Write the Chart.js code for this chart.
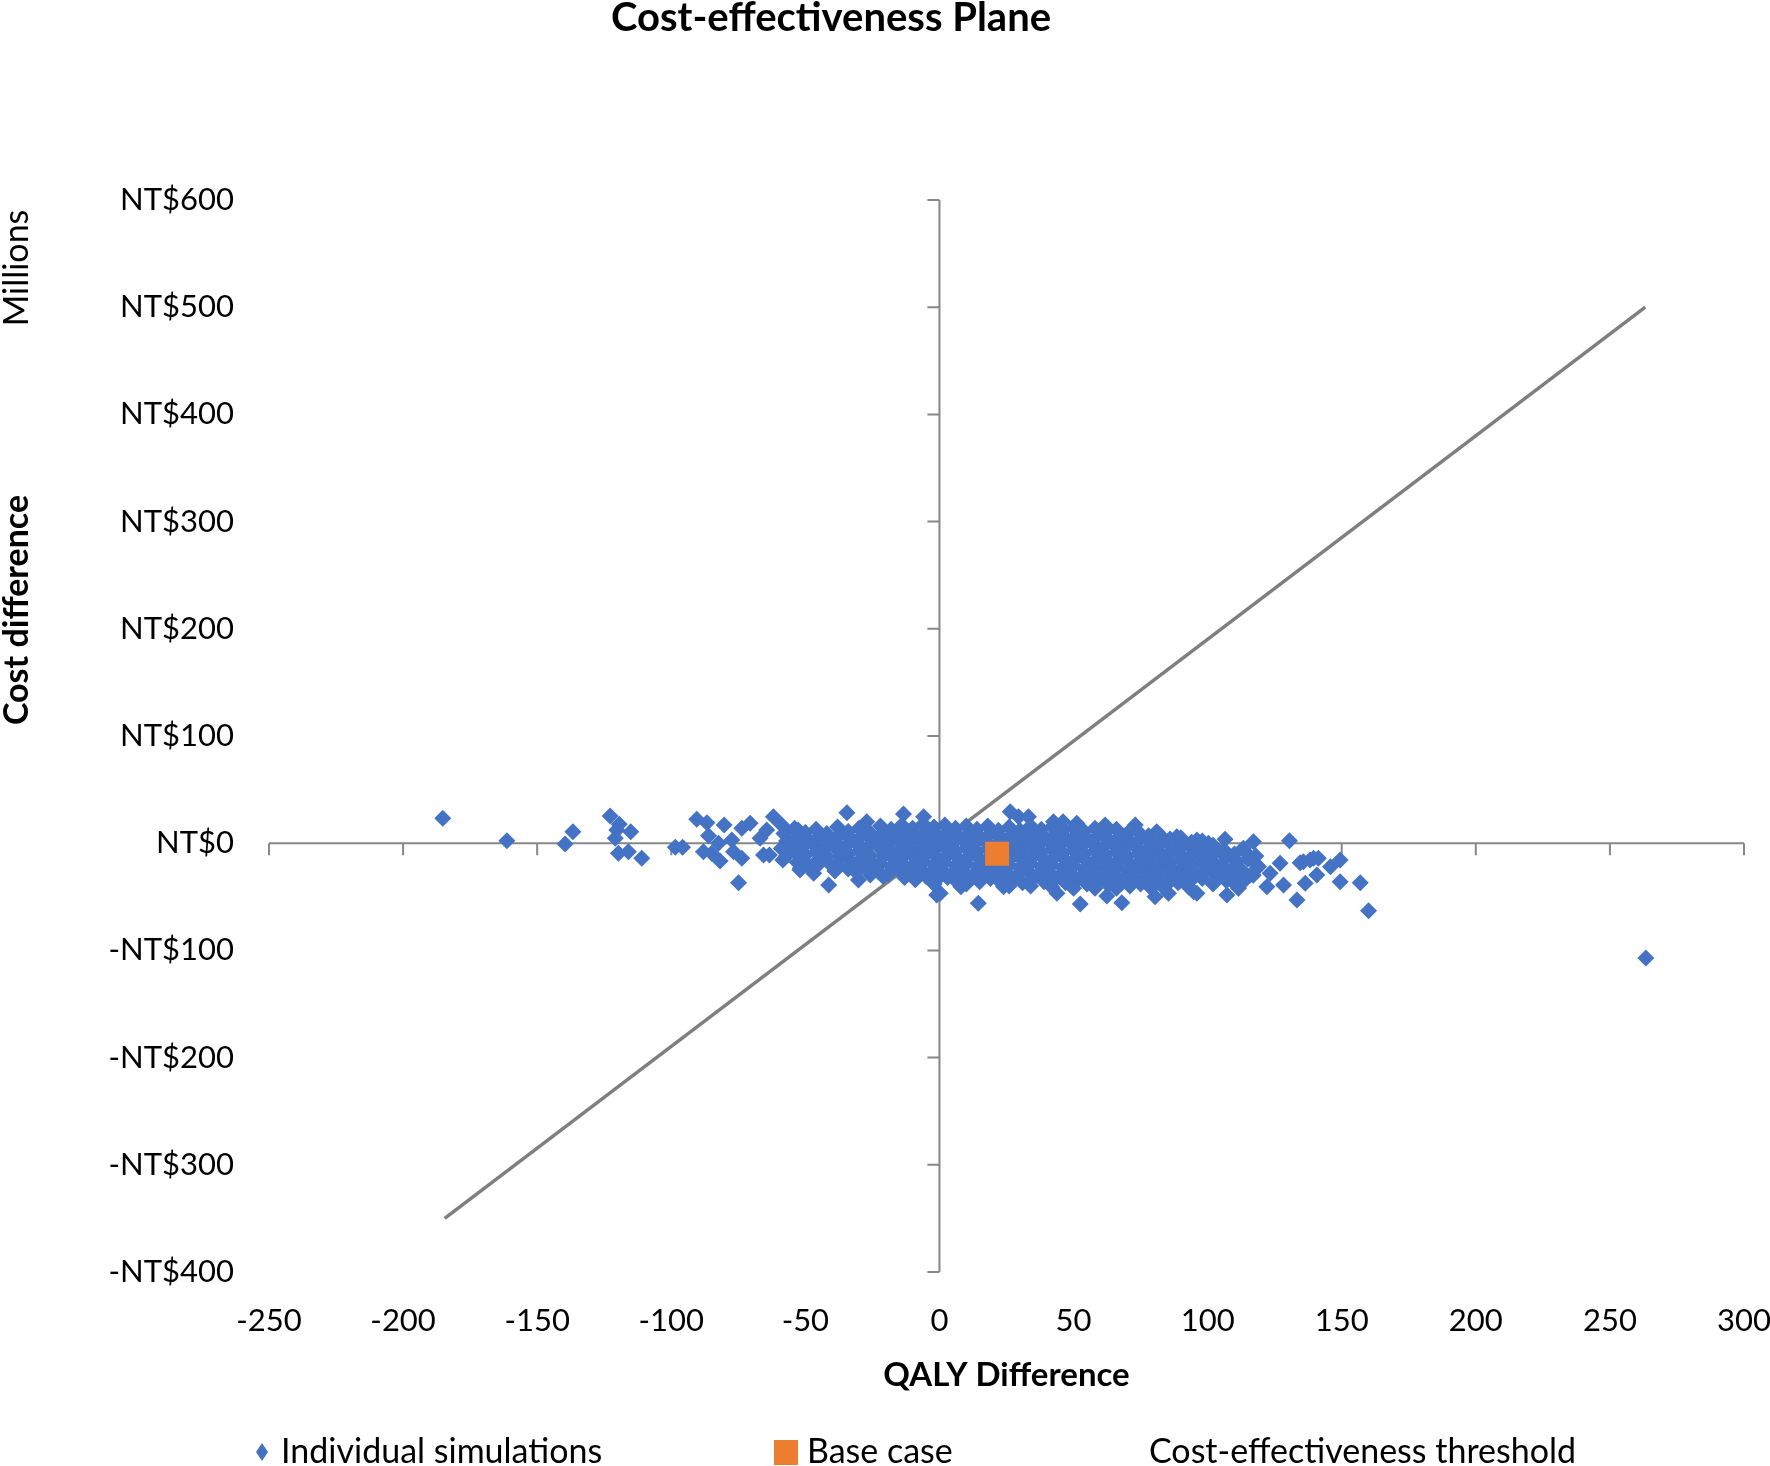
<!DOCTYPE html>
<html>
<head>
<meta charset="utf-8">
<title>Cost-effectiveness Plane</title>
<script src="https://cdn.jsdelivr.net/npm/chart.js@4.4.1/dist/chart.umd.min.js"></script>
<style>
  html, body { margin: 0; padding: 0; background: #fff; }
</style>
</head>
<body>
<canvas id="cePlane" width="1770" height="1466"></canvas>
<script>

// tick values on both axes
var qalyTicks = [-250, -200, -150, -100, -50, 0, 50, 100, 150, 200, 250, 300];
var costTicks = [-400, -300, -200, -100, 0, 100, 200, 300, 400, 500, 600];

// base case (QALY difference, cost difference in millions NT$)
var baseQaly = [21.5];
var baseCost = [-9.8];

// cost-effectiveness threshold line end points
var thresholdQaly = [-184.5, 263.2];
var thresholdCost = [-350, 500];

// individual simulations [QALY difference, cost difference]
var simulations = [
  // left tail
  [-185.2, 23.2], [-161.3, 2.3], [-136.7, 10.7], [-139.6, -0.7],
  [-122.8, 25.4], [-119.4, 17.6], [-120.3, 12.3], [-115.1, 10.7], [-120.9, 4.6],
  [-119.7, -9.4], [-116.0, -7.9], [-111.0, -14.1], [-98.5, -3.8], [-95.8, -3.8],
  [-90.5, 22.3], [-86.7, 19.1], [-80.3, 17.0], [-86.1, 7.0], [-88.0, -7.9],
  [-84.9, -9.4], [-81.8, -16.6], [-74.9, -36.8], [-82.4, 0.0], [-77.4, 3.0],
  [-73.7, 13.9], [-70.6, 18.6], [-76.8, -7.9], [-73.7, -14.1], [-65.6, -11.0],
  [-64.4, 12.3], [-66.9, 4.6],
  // edges of the cloud
  [-61.9, 24.7], [-58.8, 17.0], [-52.7, 12.3], [-49.1, 3.0], [-63.4, -11.0], [-58.4, -15.7],
  [-52.0, -25.0], [-51.9, -23.4], [-46.9, -28.1], [-41.3, -39.0], [-30.2, -34.3], [-25.8, -29.7],
  [-34.5, 28.5], [-27.1, 20.1], [-13.4, 27.2], [-5.9, 24.7],
  [0.3, -46.7], [-1.0, -48.3], [8.0, -40.6], [14.5, -56.0], [6.5, -35.9], [23.9, -40.6],
  [26.4, 29.4], [29.5, 24.7], [33.2, 24.7], [42.5, 20.1], [46.1, 20.1], [51.2, 18.6],
  [61.8, 17.0], [73.0, 17.0], [81.0, 10.7], [88.5, 6.1], [96.0, 3.0], [100.3, 0.0],
  [106.5, 3.6], [117.1, 1.4], [130.5, 2.3], [113.3, -4.8],
  [43.8, -46.7], [52.5, -56.7], [68.0, -55.5], [62.4, -49.3], [85.4, -46.7], [80.4, -49.9],
  [94.8, -45.2], [96.0, -46.7], [107.2, -48.3], [111.5, -42.1],
  // right tail
  [118.3, -20.3], [127.0, -18.8], [134.5, -18.2], [138.2, -15.7], [141.3, -14.1], [135.7, -17.3],
  [139.5, -14.1], [145.8, -21.9], [149.4, -15.7], [123.3, -28.1], [115.9, -29.7], [140.7, -29.7],
  [122.1, -40.6], [128.3, -39.0], [136.4, -37.4], [149.4, -35.9], [156.9, -36.8], [133.3, -53.0],
  [160.0, -63.0],
  [263.4, -107.1],
  // dense core
  [-58, 9], [-57, 2], [-59, -5], [-57, -12],
  [-54, 14], [-53, 6], [-55, -1], [-54, -8], [-53, -18],
  [-50, 10], [-49, 3], [-51, -4], [-50, -11], [-49, -20],
  [-46, 13], [-45, 6], [-47, -1], [-46, -8], [-45, -15], [-46, -22],
  [-42, 9], [-41, 2], [-43, -5], [-42, -12], [-41, -19],
  [-38, 15], [-37, 8], [-39, 1], [-38, -6], [-37, -13], [-38, -20], [-39, -26],
  [-34, 11], [-33, 4], [-35, -3], [-34, -10], [-33, -17], [-34, -24],
  [-30, 14], [-29, 7], [-31, 0], [-30, -7], [-29, -14], [-30, -21], [-31, -27],
  [-26, 10], [-25, 3], [-27, -4], [-26, -11], [-25, -18], [-26, -25],
  [-22, 16], [-21, 9], [-23, 2], [-22, -5], [-21, -12], [-22, -19], [-23, -26], [-21, -31],
  [-18, 13], [-17, 6], [-19, -1], [-18, -8], [-17, -15], [-18, -22], [-19, -29],
  [-14, 17], [-13, 10], [-15, 3], [-14, -4], [-13, -11], [-14, -18], [-15, -25], [-13, -32],
  [-10, 14], [-9, 7], [-11, 0], [-10, -7], [-9, -14], [-10, -21], [-11, -28], [-9, -34],
  [-6, 18], [-5, 11], [-7, 4], [-6, -3], [-5, -10], [-6, -17], [-7, -24], [-5, -31],
  [-2, 15], [-1, 8], [-3, 1], [-2, -6], [-1, -13], [-2, -20], [-3, -27], [-1, -34], [-2, -38],
  [2, 17], [3, 10], [1, 3], [2, -4], [3, -11], [2, -18], [1, -25], [3, -32],
  [6, 14], [7, 7], [5, 0], [6, -7], [7, -14], [6, -21], [5, -28], [7, -35],
  [10, 16], [11, 9], [9, 2], [10, -5], [11, -12], [10, -19], [9, -26], [11, -33], [10, -38],
  [14, 13], [15, 6], [13, -1], [14, -8], [15, -15], [14, -22], [13, -29], [15, -36],
  [18, 16], [19, 9], [17, 2], [18, -5], [19, -12], [18, -19], [17, -26], [19, -33],
  [22, 12], [23, 5], [21, -2], [22, -9], [23, -16], [22, -23], [21, -30], [23, -37],
  [26, 15], [27, 8], [25, 1], [26, -6], [27, -13], [26, -20], [25, -27], [27, -34], [26, -40],
  [30, 12], [31, 5], [29, -2], [30, -9], [31, -16], [30, -23], [29, -30], [31, -37],
  [34, 16], [35, 9], [33, 2], [34, -5], [35, -12], [34, -19], [33, -26], [35, -33], [34, -40],
  [38, 13], [39, 6], [37, -1], [38, -8], [39, -15], [38, -22], [37, -29], [39, -36],
  [42, 15], [43, 8], [41, 1], [42, -6], [43, -13], [42, -20], [41, -27], [43, -34], [42, -41],
  [46, 12], [47, 5], [45, -2], [46, -9], [47, -16], [46, -23], [45, -30], [47, -37],
  [50, 14], [51, 7], [49, 0], [50, -7], [51, -14], [50, -21], [49, -28], [51, -35], [50, -42],
  [54, 11], [55, 4], [53, -3], [54, -10], [55, -17], [54, -24], [53, -31], [55, -38],
  [58, 14], [59, 7], [57, 0], [58, -7], [59, -14], [58, -21], [57, -28], [59, -35], [58, -42],
  [62, 10], [63, 3], [61, -4], [62, -11], [63, -18], [62, -25], [61, -32], [63, -39],
  [66, 13], [67, 6], [65, -1], [66, -8], [67, -15], [66, -22], [65, -29], [67, -36], [66, -42],
  [70, 9], [71, 2], [69, -5], [70, -12], [71, -19], [70, -26], [69, -33], [71, -40],
  [74, 11], [75, 4], [73, -3], [74, -10], [75, -17], [74, -24], [73, -31], [75, -38],
  [78, 7], [79, 0], [77, -7], [78, -14], [79, -21], [78, -28], [77, -35], [79, -42],
  [82, 8], [83, 1], [81, -6], [82, -13], [83, -20], [82, -27], [81, -34], [83, -40],
  [86, 4], [87, -3], [85, -10], [86, -17], [87, -24], [86, -31], [85, -38],
  [90, 5], [91, -2], [89, -9], [90, -16], [91, -23], [90, -30], [89, -37],
  [94, 1], [95, -6], [93, -13], [94, -20], [95, -27], [94, -34], [93, -41],
  [98, 2], [99, -5], [97, -12], [98, -19], [99, -26], [98, -33],
  [102, -2], [103, -9], [101, -16], [102, -23], [103, -30], [102, -38],
  [106, -6], [107, -13], [105, -20], [106, -27], [107, -35],
  [110, -10], [111, -17], [109, -24], [110, -31], [111, -40],
  [114, -8], [115, -15], [113, -26], [114, -34],
  [118, -12], [119, -22], [117, -30]
];

var blue = '#4472C4';
var orange = '#ED7D31';
var lineGrey = '#7f7f7f';

Chart.defaults.font.family = 'Lato';
Chart.defaults.color = '#000';

function toPoints(xs, ys) {
  var pts = [];
  for (var i = 0; i < xs.length; i++) {
    pts.push({x: xs[i], y: ys[i]});
  }
  return pts;
}

function costLabel(v) {
  if (v < 0) return '-NT$' + Math.abs(v);
  return 'NT$' + v;
}

// Excel style axes crossing at zero, titles and legend
var planeDecor = {
  id: 'planeDecor',
  beforeDatasetsDraw: function(chart) {
    var ctx = chart.ctx, xs = chart.scales.x, ys = chart.scales.y;
    var x0 = xs.getPixelForValue(0), y0 = ys.getPixelForValue(0);
    ctx.save();
    ctx.strokeStyle = '#878787';
    ctx.lineWidth = 2;
    ctx.beginPath();
    ctx.moveTo(xs.left, y0); ctx.lineTo(xs.right, y0);
    ctx.moveTo(x0, ys.top); ctx.lineTo(x0, ys.bottom);
    xs.ticks.forEach(function(t) {
      var px = xs.getPixelForValue(t.value);
      ctx.moveTo(px, y0); ctx.lineTo(px, y0 + 12);
    });
    ys.ticks.forEach(function(t) {
      var py = ys.getPixelForValue(t.value);
      ctx.moveTo(x0 - 12, py); ctx.lineTo(x0, py);
    });
    ctx.stroke();
    ctx.restore();
  },
  afterDraw: function(chart) {
    var ctx = chart.ctx;
    ctx.save();
    ctx.fillStyle = '#000';
    ctx.textBaseline = 'middle';

    // chart title
    ctx.textAlign = 'center';
    ctx.font = 'bold 40px Lato';
    ctx.fillText('Cost-effectiveness Plane', 831, 18);

    // vertical titles
    ctx.save();
    ctx.translate(17, 610);
    ctx.rotate(-Math.PI / 2);
    ctx.font = 'bold 34px Lato';
    ctx.fillText('Cost difference', 0, 0);
    ctx.restore();
    ctx.save();
    ctx.translate(17, 268);
    ctx.rotate(-Math.PI / 2);
    ctx.font = '34px Lato';
    ctx.fillText('Millions', 0, 0);
    ctx.restore();

    // legend
    var ly = 1452;
    var ds = chart.data.datasets;
    ctx.font = '34px Lato';
    ctx.textAlign = 'left';
    ctx.fillStyle = ds[0].backgroundColor;
    ctx.beginPath();
    ctx.moveTo(262, ly - 9); ctx.lineTo(268, ly); ctx.lineTo(262, ly + 9); ctx.lineTo(256, ly);
    ctx.closePath();
    ctx.fill();
    ctx.fillStyle = ds[1].backgroundColor;
    ctx.fillRect(774, ly - 12, 24, 25);
    ctx.fillStyle = '#000';
    ctx.fillText(ds[0].label, 281, ly);
    ctx.fillText(ds[1].label, 807, ly);
    ctx.fillText(ds[2].label, 1149, ly);
    ctx.restore();
  }
};

var ctx = document.getElementById('cePlane');
var chart = new Chart(ctx, {
  type: 'scatter',
  data: {
    datasets: [
      {
        label: 'Individual simulations',
        data: simulations.map(function(p) { return {x: p[0], y: p[1]}; }),
        pointStyle: 'rectRot',
        pointRadius: 8.5,
        backgroundColor: blue,
        borderColor: blue,
        borderWidth: 0,
        order: 2
      },
      {
        label: 'Base case',
        data: toPoints(baseQaly, baseCost),
        pointStyle: 'rect',
        pointRadius: 17,
        backgroundColor: orange,
        borderColor: orange,
        borderWidth: 0,
        order: 1
      },
      {
        label: 'Cost-effectiveness threshold',
        data: toPoints(thresholdQaly, thresholdCost),
        showLine: true,
        pointRadius: 0,
        borderColor: lineGrey,
        backgroundColor: lineGrey,
        borderWidth: 3.5,
        order: 3
      }
    ]
  },
  options: {
    responsive: false,
    animation: false,
    layout: { padding: { top: 200, right: 0, bottom: 0, left: 0 } },
    plugins: {
      legend: { display: false },
      title: { display: false },
      tooltip: { enabled: false }
    },
    scales: {
      x: {
        type: 'linear',
        min: -250,
        max: 300,
        afterBuildTicks: function(s) { s.ticks = qalyTicks.map(function(v) { return {value: v}; }); },
        afterFit: function(s) {
          s.height = 194;
          // let the last label run to the canvas edge as in the original
          s.paddingLeft = 0;
          s.paddingRight = 26;
        },
        grid: { display: false, drawTicks: false },
        border: { display: false },
        ticks: { font: { size: 31 }, padding: 30, maxRotation: 0, autoSkip: false },
        title: {
          display: true,
          text: 'QALY Difference',
          font: { size: 33, weight: 'bold' },
          padding: { top: 0, bottom: 71 }
        }
      },
      y: {
        type: 'linear',
        min: -400,
        max: 600,
        afterBuildTicks: function(s) { s.ticks = costTicks.map(function(v) { return {value: v}; }); },
        afterFit: function(s) { s.width = 269; },
        grid: { display: false, drawTicks: false },
        border: { display: false },
        ticks: { font: { size: 31 }, padding: 35, autoSkip: false, callback: costLabel }
      }
    }
  },
  plugins: [planeDecor]
});
</script>
</body>
</html>
